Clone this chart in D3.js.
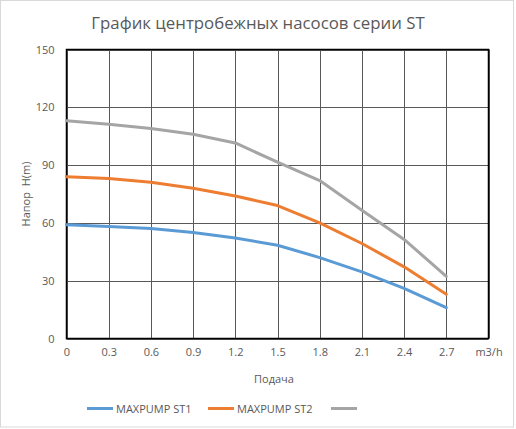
<!DOCTYPE html>
<html>
<head>
<meta charset="utf-8">
<script src="https://cdn.jsdelivr.net/npm/d3@7"></script>
<style>
  html, body { margin: 0; padding: 0; background: #fff; }
  svg { display: block; }
  text { font-family: "Open Sans", "DejaVu Sans", sans-serif; fill: #595959; }
</style>
</head>
<body>
<svg id="chart" width="516" height="429"></svg>
<script>
// ---- data ----
const categories = ["0", "0.3", "0.6", "0.9", "1.2", "1.5", "1.8", "2.1", "2.4", "2.7", "m3/h"];
const st1 = [59, 58.1, 57.1, 55, 52.2, 48.4, 42, 34.6, 26, 16];
const st2 = [84, 83, 81.1, 78, 74, 69, 60, 49.3, 37.2, 23];
const st3 = [113, 111.2, 109, 106, 101.5, 91.5, 82, 66.6, 51.4, 32.3];
const seriesNames = ["MAXPUMP ST1", "MAXPUMP ST2", ""];
const yTicks = [0, 30, 60, 90, 120, 150];
const titleText = "График центробежных насосов серии ST";
const xTitle = "Подача";
const yTitle = "Напор  H(m)";

const colors = ["#5B9BD5", "#ED7D31", "#A5A5A5"];
const series = [st1, st2, st3];

const svg = d3.select("#chart");
const plot = { left: 66.5, right: 488.5, top: 49.5, bottom: 338.5 };

// outer chart border
svg.append("rect").attr("x", 0.5).attr("y", 0.5).attr("width", 513).attr("height", 426.5)
  .attr("fill", "#fff").attr("stroke", "#D9D9D9").attr("stroke-width", 1);

const x = d3.scalePoint().domain(categories).range([plot.left, plot.right]).padding(0);
const y = d3.scaleLinear().domain([0, 150]).range([plot.bottom, plot.top]);

// title
svg.append("text").attr("x", 258).attr("y", 29).attr("text-anchor", "middle")
  .style("font-size", "16.8px").text(titleText);

// gridlines
const g = svg.append("g");
g.selectAll("line.h").data(yTicks).join("line")
  .attr("x1", plot.left).attr("x2", plot.right)
  .attr("y1", d => Math.round(y(d)) + 0.5).attr("y2", d => Math.round(y(d)) + 0.5)
  .attr("stroke", "#595959").attr("stroke-width", 1);
g.selectAll("line.v").data(categories).join("line")
  .attr("x1", d => Math.round(x(d)) + 0.5).attr("x2", d => Math.round(x(d)) + 0.5)
  .attr("y1", plot.top).attr("y2", plot.bottom)
  .attr("stroke", "#595959").attr("stroke-width", 1);

// plot border
svg.append("rect").attr("x", plot.left).attr("y", plot.top)
  .attr("width", plot.right - plot.left).attr("height", plot.bottom - plot.top)
  .attr("fill", "none").attr("stroke", "#000").attr("stroke-width", 1.5);

// y axis
const yAxis = d3.axisLeft(y).tickValues(yTicks).tickSize(0).tickPadding(12);
const ya = svg.append("g").attr("transform", `translate(${plot.left},0)`).call(yAxis);
ya.select(".domain").remove();
ya.selectAll("text").style("font-size", "11px").style("font-family", "'Open Sans', sans-serif").attr("fill", "#595959");

// x axis
const xAxis = d3.axisBottom(x).tickSize(0).tickPadding(10);
const xa = svg.append("g").attr("transform", `translate(0,${plot.bottom})`).call(xAxis);
xa.select(".domain").remove();
xa.selectAll("text").style("font-size", "11px").style("font-family", "'Open Sans', sans-serif").attr("fill", "#595959");

// axis titles
svg.append("text").attr("x", 274).attr("y", 383).attr("text-anchor", "middle")
  .style("font-size", "11px").text(xTitle);
svg.append("text").attr("transform", "translate(30,194) rotate(-90)").attr("text-anchor", "middle")
  .style("font-size", "11px").style("white-space", "pre").text(yTitle);

// lines
const line = d3.line().x((d, i) => x(categories[i])).y(d => y(d)).curve(d3.curveLinear);
series.forEach((s, i) => {
  svg.append("path").datum(s).attr("d", line)
    .attr("fill", "none").attr("stroke", colors[i]).attr("stroke-width", 3)
    .attr("stroke-linejoin", "round").attr("stroke-linecap", "round");
});

// legend
const legendX = [87, 208, 331];
const lg = svg.append("g");
seriesNames.forEach((name, i) => {
  lg.append("line").attr("x1", legendX[i]).attr("x2", legendX[i] + 26)
    .attr("y1", 408.5).attr("y2", 408.5).attr("stroke", colors[i]).attr("stroke-width", 3);
  lg.append("text").attr("x", legendX[i] + 29).attr("y", 412.5)
    .style("font-size", "11px").text(name);
});
</script>
</body>
</html>
